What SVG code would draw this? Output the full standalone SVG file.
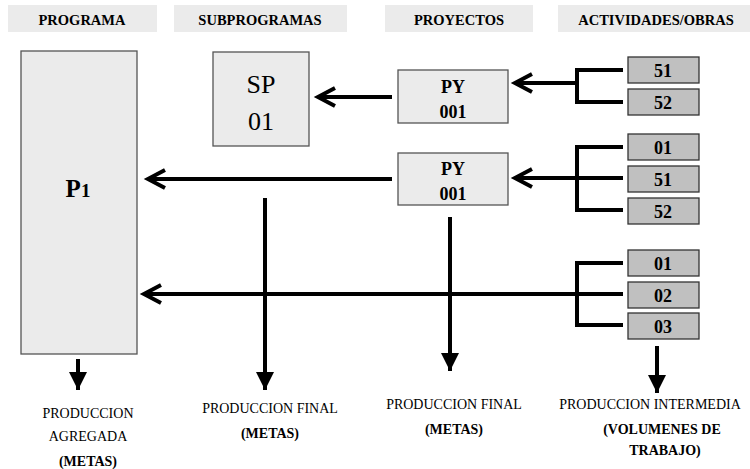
<svg xmlns="http://www.w3.org/2000/svg" width="750" height="469" viewBox="0 0 750 469">
<style>
.hdr{fill:#ebebeb}
.ht{font-family:'Liberation Serif','Times New Roman',serif;font-weight:bold;font-size:14.5px;fill:#000;text-anchor:middle}
.box{fill:#ebebeb;stroke:#555;stroke-width:1.3}
.abox{fill:#c0c0c0;stroke:#333;stroke-width:1.3}
.bt{font-family:'Liberation Serif','Times New Roman',serif;font-weight:bold;font-size:18px;fill:#000;text-anchor:middle}
.st{font-family:'Liberation Serif','Times New Roman',serif;font-size:26px;fill:#000;text-anchor:middle}
.lt{font-family:'Liberation Serif','Times New Roman',serif;font-size:14px;fill:#000;text-anchor:middle}
.lb{font-family:'Liberation Serif','Times New Roman',serif;font-size:14px;font-weight:bold;fill:#000;text-anchor:middle}
.ln{fill:none;stroke:#000;stroke-width:4}
</style>
<defs>
<marker id="open" markerUnits="userSpaceOnUse" viewBox="-22 -12 26 24" markerWidth="26" markerHeight="24" refX="0" refY="0" orient="auto" overflow="visible">
<path d="M-17,-9 L0,0 L-17,9" fill="none" stroke="#000" stroke-width="4"/>
</marker>
<marker id="fill" markerUnits="userSpaceOnUse" viewBox="-20 -12 24 24" markerWidth="24" markerHeight="24" refX="0" refY="0" orient="auto" overflow="visible">
<path d="M-18,-9 L0,0 L-18,9 Z" fill="#000"/>
</marker>
</defs>
<g id="headers">
<rect class="hdr" x="8" y="5" width="149" height="27"/>
<text class="ht" x="82" y="25">PROGRAMA</text>
<rect class="hdr" x="174" y="5" width="173" height="27"/>
<text class="ht" x="260" y="25">SUBPROGRAMAS</text>
<rect class="hdr" x="385" y="5" width="148" height="27"/>
<text class="ht" x="459" y="25">PROYECTOS</text>
<rect class="hdr" x="558" y="5" width="192" height="27"/>
<text class="ht" x="656" y="25">ACTIVIDADES/OBRAS</text>
</g>
<g id="connectors">
<path class="ln" d="M392,97 H318" marker-end="url(#open)"/>
<path class="ln" d="M623,70 H577 V102 H623 M577,83 H515" marker-end="url(#open)"/>
<path class="ln" d="M623,147 H577 V210 H623 M623,178 H515" marker-end="url(#open)"/>
<path class="ln" d="M392,179 H148" marker-end="url(#open)"/>
<path class="ln" d="M623,263 H577 V325 H623 M623,294 H144" marker-end="url(#open)"/>
<path class="ln" d="M265,198 V390" marker-end="url(#fill)"/>
<path class="ln" d="M450,217 V371" marker-end="url(#fill)"/>
<path class="ln" d="M657,346 V393" marker-end="url(#fill)"/>
<path class="ln" d="M78,359 V390" marker-end="url(#fill)"/>
</g>
<g id="P1">
<rect class="box" x="21" y="51" width="116" height="303"/>
<text class="bt" x="78" y="197" style="font-size:25px">P<tspan style="font-size:19px">1</tspan></text>
</g>
<g id="SP01">
<rect class="box" x="213" y="52" width="96" height="94"/>
<text class="st" x="261" y="93">SP</text>
<text class="st" x="261" y="130">01</text>
</g>
<g id="PY001a">
<rect class="box" x="398" y="70" width="110" height="53"/>
<text class="bt" x="453" y="93">PY</text>
<text class="bt" x="453" y="118">001</text>
</g>
<g id="PY001b">
<rect class="box" x="398" y="153" width="110" height="52"/>
<text class="bt" x="453" y="175">PY</text>
<text class="bt" x="453" y="200">001</text>
</g>
<g id="A51a"><rect class="abox" x="628" y="57" width="71" height="26"/><text class="bt" x="663" y="77">51</text></g>
<g id="A52a"><rect class="abox" x="628" y="89" width="71" height="26"/><text class="bt" x="663" y="109">52</text></g>
<g id="A01b"><rect class="abox" x="628" y="134" width="71" height="26"/><text class="bt" x="663" y="154">01</text></g>
<g id="A51b"><rect class="abox" x="628" y="166" width="71" height="26"/><text class="bt" x="663" y="186">51</text></g>
<g id="A52b"><rect class="abox" x="628" y="198" width="71" height="26"/><text class="bt" x="663" y="218">52</text></g>
<g id="A01c"><rect class="abox" x="628" y="250" width="71" height="26"/><text class="bt" x="663" y="270">01</text></g>
<g id="A02c"><rect class="abox" x="628" y="282" width="71" height="26"/><text class="bt" x="663" y="302">02</text></g>
<g id="A03c"><rect class="abox" x="628" y="313" width="71" height="26"/><text class="bt" x="663" y="333">03</text></g>
<g id="labels">
<text class="lt" x="88" y="418">PRODUCCION</text>
<text class="lt" x="88" y="441">AGREGADA</text>
<text class="lb" x="88" y="466">(METAS)</text>
<text class="lt" x="270" y="413">PRODUCCION FINAL</text>
<text class="lb" x="270" y="438">(METAS)</text>
<text class="lt" x="454" y="409">PRODUCCION FINAL</text>
<text class="lb" x="454" y="434">(METAS)</text>
<text class="lt" x="650" y="409">PRODUCCION INTERMEDIA</text>
<text class="lb" x="662" y="434">(VOLUMENES DE</text>
<text class="lb" x="665" y="455">TRABAJO)</text>
</g>
</svg>
